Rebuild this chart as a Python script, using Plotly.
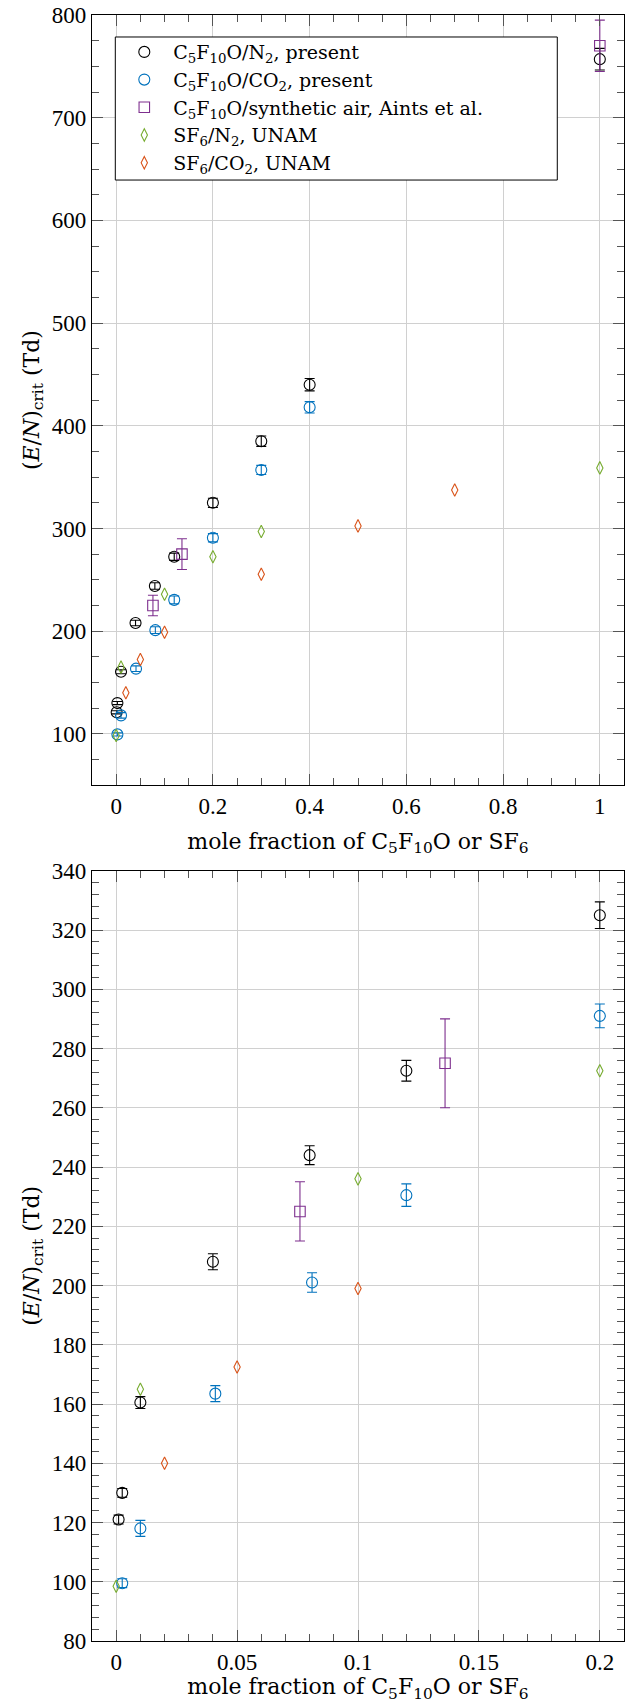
import plotly.graph_objects as go

# ---------------- data ----------------
n2_x = [0.001, 0.0025, 0.01, 0.04, 0.08, 0.12, 0.2, 0.3, 0.4, 1.0]
n2_y = [121, 130, 160.5, 208, 244, 272.5, 325, 385, 440, 757]
n2_err = [1.5, 1.5, 2, 2.7, 3.2, 3.5, 4.5, 5, 6, 10.5]

co2_x = [0.0025, 0.01, 0.041, 0.081, 0.12, 0.2, 0.3, 0.4]
co2_y = [99.5, 118, 163.5, 201, 230.5, 291, 357, 418]
co2_err = [1.5, 2.7, 2.7, 3.3, 3.8, 4, 4.5, 5.5]

air_x = [0.076, 0.136, 1.0]
air_y = [225, 275, 770]
air_err = [10, 15, 25]

sf6n2_x = [0, 0.01, 0.1, 0.2, 0.3, 1.0]
sf6n2_y = [98.5, 165, 236, 272.5, 297, 359]

sf6co2_x = [0.02, 0.05, 0.1, 0.3, 0.5, 0.7]
sf6co2_y = [140, 172.5, 199, 255.5, 302.5, 337.5]

names = [
    "C<sub>5</sub>F<sub>10</sub>O/N<sub>2</sub>, present",
    "C<sub>5</sub>F<sub>10</sub>O/CO<sub>2</sub>, present",
    "C<sub>5</sub>F<sub>10</sub>O/synthetic air, Aints et al.",
    "SF<sub>6</sub>/N<sub>2</sub>, UNAM",
    "SF<sub>6</sub>/CO<sub>2</sub>, UNAM",
]
colors = ["#000000", "#0072BD", "#7E2F8E", "#77AC30", "#D95319"]

top_xticks = [0, 0.2, 0.4, 0.6, 0.8, 1]
bot_xticks = [0, 0.05, 0.1, 0.15, 0.2]

TICKFONT = "Liberation Serif, serif"
TEXTFONT = "DejaVu Serif, serif"

series = [
    (n2_x, n2_y, n2_err, "circle-open", 11),
    (co2_x, co2_y, co2_err, "circle-open", 11),
    (air_x, air_y, air_err, "square-open", 10.5),
    (sf6n2_x, sf6n2_y, None, "diamond-tall-open", 9),
    (sf6co2_x, sf6co2_y, None, "diamond-tall-open", 9),
]

fig = go.Figure()
for panel, (xa, ya) in enumerate([("x", "y"), ("x2", "y2")]):
    for i, (xs, ys, err, sym, sz) in enumerate(series):
        kw = {}
        if err is not None:
            kw["error_y"] = dict(type="data", array=err, visible=True,
                                 color=colors[i], thickness=1.1, width=5)
        fig.add_trace(go.Scatter(
            x=xs, y=ys, mode="markers", name=names[i],
            xaxis=xa, yaxis=ya, showlegend=(panel == 0),
            marker=dict(symbol=sym, size=sz, color=colors[i],
                        line=dict(width=1.1, color=colors[i])),
            cliponaxis=False, **kw))

axis_common = dict(
    showline=True, linecolor="#000000", linewidth=1.2, mirror="ticks",
    ticks="inside", ticklen=11, tickwidth=1, tickcolor="#555555",
    showgrid=True, gridcolor="#d0d0d0", gridwidth=1,
    zeroline=False, automargin=False, ticklabeloverflow="allow",
    tickfont=dict(family=TICKFONT, size=23, color="#000000"),
    ticklabelstandoff=0,
)

xtitle = "mole fraction of C<sub>5</sub>F<sub>10</sub>O or SF<sub>6</sub>"
ytitle = "(<i>E</i>/<i>N</i>)<sub>crit</sub> (Td)"
title_font = dict(family=TEXTFONT, size=22, color="#000000")

# legend frame (white box with black border, drawn above the grid)
fig.add_shape(type="rect", xref="paper", yref="paper",
              x0=0.0438, x1=0.8746, y0=0.8985, y1=0.98647,
              fillcolor="white", line=dict(color="#000000", width=1),
              layer="above")

fig.update_layout(
    width=627, height=1695,
    margin=dict(l=84, r=11, t=7, b=62),
    paper_bgcolor="white", plot_bgcolor="white",
    font=dict(family=TEXTFONT, color="#000000", size=22),
    xaxis=dict(axis_common, domain=[0, 1], range=[-0.05, 1.05],
               tickvals=top_xticks, anchor="y",
               minor=dict(ticks="inside", ticklen=7, dtick=0.05, tick0=0,
                          tickcolor="#555555", showgrid=False),
               title=dict(text=xtitle, font=title_font, standoff=15)),
    yaxis=dict(axis_common, domain=[0.5263, 1], range=[50, 800],
               dtick=100, tick0=0, anchor="x",
               minor=dict(ticks="inside", ticklen=7, dtick=25, tick0=0,
                          tickcolor="#555555", showgrid=False),
               title=dict(text=ytitle, font=title_font, standoff=6)),
    xaxis2=dict(axis_common, domain=[0, 1], range=[-0.01, 0.21],
                tickvals=bot_xticks, anchor="y2",
                minor=dict(ticks="inside", ticklen=7, dtick=0.01, tick0=0,
                           tickcolor="#555555", showgrid=False),
                title=dict(text=xtitle, font=title_font, standoff=10)),
    yaxis2=dict(axis_common, domain=[0, 0.4737], range=[80, 340],
                dtick=20, tick0=0, anchor="x2",
                minor=dict(ticks="inside", ticklen=7, dtick=4, tick0=0,
                           tickcolor="#555555", showgrid=False),
                title=dict(text=ytitle, font=title_font, standoff=6)),
    legend=dict(x=0.0438, y=0.9889, xanchor="left", yanchor="top",
                bgcolor="rgba(0,0,0,0)", borderwidth=0,
                font=dict(family=TEXTFONT, size=19, color="#000000"),
                itemwidth=48, tracegroupgap=0),
)

fig.write_html("out.html")
